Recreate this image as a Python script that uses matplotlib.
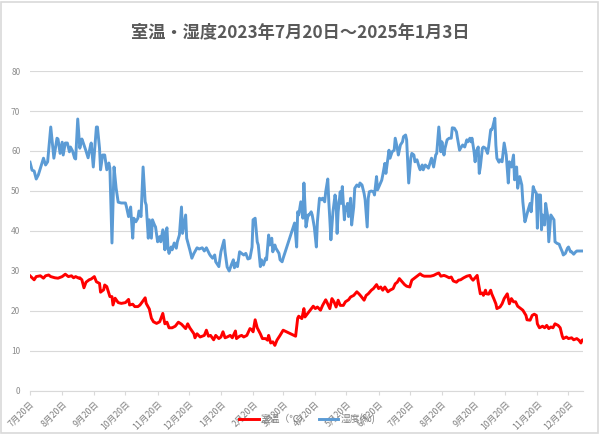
import numpy as np
import pandas as pd
import matplotlib
matplotlib.use('Agg')
import matplotlib.pyplot as plt
from matplotlib.patches import Rectangle

plt.rcParams['font.family'] = ['Noto Sans CJK JP', 'DejaVu Sans']

start_date = '2023-07-20'
end_date = '2025-01-03'

# days since 2023-07-20 and humidity (%)
hum_days = [0, 2, 4, 6, 8, 13, 15, 17, 20, 23, 26, 27, 29, 31, 32, 34, 36, 38, 39, 41,
            43, 44, 46, 48, 50, 51, 54, 56, 58, 59, 61, 64, 65, 67, 68, 70, 72, 74, 76, 77,
            79, 81, 83, 85, 88, 92, 93, 95, 97, 99, 100, 102, 104, 105, 107, 109, 111, 112, 114, 115,
            117, 118, 120, 121, 123, 125, 126, 128, 130, 131, 132, 133, 134, 136, 137, 139, 141, 142, 144,
            146, 147, 150, 151, 154, 156, 158, 161, 163, 166, 168, 170, 173, 174, 176, 178, 179, 182, 184,
            187, 188, 190, 192, 194, 196, 197, 199, 200, 202, 204, 206, 208, 210, 212, 214, 215, 217,
            219, 220, 222, 223, 225, 227, 228, 230, 231, 233, 234, 236, 237, 240, 241, 243, 244, 255,
            257, 258, 259, 261, 263, 264, 266, 268, 269, 271, 272, 274, 276, 277, 279, 281, 282, 284,
            285, 287, 288, 289, 290, 292, 294, 295, 296, 297, 299, 300, 301, 303, 304, 305, 306, 307,
            309, 310, 312, 313, 315, 317, 318, 320, 322, 323, 325, 326, 327, 329, 331, 332, 334, 335,
            337, 339, 340, 342, 343, 345, 346, 347, 349, 351, 352, 354, 355, 357, 359, 360, 362, 363,
            365, 367, 368, 370, 371, 373, 375, 376, 378, 379, 381, 383, 384, 387, 389, 391, 392, 394,
            396, 397, 399, 400, 402, 404, 406, 407, 409, 411, 412, 414, 415, 417, 419, 421, 422, 424,
            425, 426, 428, 429, 430, 432, 433, 434, 436, 437, 439, 441, 442, 444, 445, 446, 448, 449,
            450, 452, 453, 455, 457, 459, 461, 462, 464, 466, 467, 469, 470, 472, 474, 475, 477, 478,
            480, 482, 483, 485, 486, 488, 489, 490, 492, 493, 494, 496, 497, 499, 500, 502, 503, 505,
            506, 508, 510, 511, 513, 514, 516, 518, 519, 521, 522, 524, 526, 527, 529, 531, 533]
humidity = [57.2, 55.2, 55.0, 53.0, 54.0, 58.2, 56.5, 57.3, 66.0, 58.2, 63.2, 63.0, 59.4, 62.2, 59.0, 62.0, 62.0, 59.8, 61.0, 60.0,
            58.2, 58.0, 68.0, 60.7, 63.0, 62.3, 60.0, 58.3, 61.0, 62.0, 56.0, 66.0, 66.0, 60.7, 55.3, 59.0, 59.0, 55.3, 57.0, 55.7,
            37.0, 56.0, 50.7, 47.2, 47.0, 47.0, 46.0, 43.6, 46.0, 38.2, 43.2, 42.3, 43.2, 45.0, 43.6, 56.0, 47.3, 46.5, 38.2, 42.8,
            38.2, 42.8, 41.5, 41.0, 37.3, 38.6, 37.3, 40.3, 35.3, 39.8, 40.8, 35.7, 34.4, 36.0, 35.3, 37.0, 35.7, 37.3, 39.0,
            46.0, 39.4, 44.0, 38.2, 35.3, 33.2, 34.4, 35.8, 35.5, 35.8, 35.0, 35.8, 34.2, 33.8, 33.2, 34.0, 32.3, 31.1, 34.8,
            37.7, 34.8, 31.0, 30.0, 31.5, 32.8, 30.8, 32.0, 31.1, 34.8, 34.4, 34.0, 34.4, 33.0, 33.2, 36.0, 42.8, 43.2,
            37.3, 36.5, 31.1, 32.8, 31.5, 33.2, 32.8, 39.0, 36.5, 38.2, 34.8, 36.5, 35.7, 34.4, 32.8, 32.3, 33.2, 42.0,
            36.0, 44.8, 44.0, 47.3, 43.2, 52.0, 41.0, 44.0, 44.0, 44.8, 44.0, 41.0, 36.0, 42.3, 48.2, 47.8, 48.2, 47.3,
            49.8, 53.0, 47.3, 42.8, 37.8, 44.8, 49.0, 47.3, 39.4, 44.8, 49.8, 46.9, 51.1, 42.8, 46.0, 45.2, 46.9, 43.6,
            48.2, 41.5, 46.0, 50.7, 51.5, 51.1, 52.0, 51.5, 49.4, 47.8, 41.0, 48.2, 49.8, 50.0, 49.8, 49.0, 53.6, 50.3,
            51.5, 52.7, 54.0, 56.9, 54.4, 58.2, 60.2, 58.2, 59.8, 60.2, 63.2, 60.7, 59.0, 61.5, 62.3, 63.6, 64.0, 62.8,
            52.0, 58.2, 59.4, 59.0, 57.3, 57.8, 56.0, 55.3, 56.5, 55.3, 56.5, 56.0, 55.7, 58.2, 56.0, 59.0, 59.4, 66.0,
            59.8, 62.3, 59.0, 60.7, 62.8, 63.2, 63.2, 65.8, 65.7, 64.8, 63.2, 60.2, 60.7, 61.5, 61.0, 62.8, 62.3, 63.2,
            62.3, 63.2, 59.8, 57.3, 59.8, 61.0, 54.4, 56.0, 60.7, 61.0, 60.7, 59.4, 61.0, 65.3, 65.3, 66.0, 68.2, 61.5,
            58.2, 57.2, 57.8, 57.3, 62.0, 59.0, 52.0, 57.3, 56.0, 59.0, 52.8, 56.0, 50.7, 53.6, 51.5, 47.3, 42.3, 43.2,
            45.2, 46.9, 44.8, 51.1, 50.3, 49.4, 40.7, 49.0, 49.0, 40.3, 44.0, 41.5, 46.9, 43.6, 37.3, 44.0, 43.6, 42.8,
            37.3, 36.9, 36.7, 36.0, 34.8, 34.0, 34.4, 35.7, 36.0, 34.8, 34.8, 34.2, 34.8, 35.0, 35.0, 35.0, 35.0]

# days since 2023-07-20 and room temperature (deg C)
temp_days = [0, 2, 4, 6, 10, 13, 15, 18, 20, 24, 27, 31, 34, 37, 40, 42, 44, 47, 48, 50,
             52, 54, 57, 59, 62, 64, 67, 68, 71, 72, 74, 77, 79, 80, 82, 85, 88, 92, 95, 96,
             99, 101, 104, 106, 108, 111, 112, 115, 117, 119, 122, 125, 128, 130, 132, 134, 137, 140, 143,
             146, 150, 152, 154, 158, 159, 161, 164, 168, 170, 172, 174, 177, 179, 182, 184, 186, 188, 190,
             193, 195, 198, 199, 202, 204, 206, 209, 212, 214, 215, 217, 219, 222, 224, 227, 229, 230, 232,
             234, 236, 238, 241, 244, 256, 258, 259, 262, 264, 265, 268, 270, 273, 275, 277, 280, 282, 285,
             286, 289, 291, 293, 295, 297, 299, 302, 304, 307, 309, 312, 315, 317, 319, 322, 324, 326, 329,
             331, 334, 336, 338, 340, 342, 345, 347, 350, 352, 354, 356, 359, 361, 363, 366, 368, 370, 373,
             376, 378, 380, 383, 386, 389, 392, 394, 396, 399, 401, 404, 406, 408, 411, 413, 415, 418, 421,
             424, 425, 427, 429, 431, 432, 434, 436, 437, 439, 440, 442, 444, 445, 447, 449, 450, 453, 455,
             457, 459, 460, 462, 464, 466, 468, 470, 473, 475, 478, 479, 482, 484, 486, 488, 489, 491, 494,
             496, 498, 500, 502, 504, 506, 509, 511, 513, 514, 517, 519, 522, 524, 527, 529, 531, 532, 533]
temperature = [28.8, 28.3, 27.8, 28.6, 28.8, 28.2, 28.8, 29.0, 28.6, 28.3, 28.2, 28.6, 29.2, 28.6, 28.8, 28.3, 28.6, 28.2, 28.3, 27.8,
               25.8, 27.2, 27.8, 28.0, 28.6, 27.3, 26.9, 24.7, 25.3, 26.5, 26.1, 23.6, 23.6, 21.5, 23.2, 22.1, 21.9, 22.1, 22.9, 21.5,
               21.7, 21.1, 21.1, 21.5, 22.2, 23.3, 21.9, 20.5, 18.2, 17.3, 16.9, 17.3, 19.4, 16.8, 17.2, 15.8, 15.8, 16.2, 17.2,
               16.7, 15.6, 16.8, 15.8, 14.3, 13.3, 14.3, 13.5, 13.9, 15.2, 13.7, 13.9, 12.8, 13.9, 13.1, 13.5, 14.8, 13.3, 13.5,
               13.9, 13.3, 15.0, 13.1, 13.7, 13.9, 13.5, 13.9, 15.6, 15.3, 14.8, 17.8, 15.8, 14.3, 13.1, 13.1, 12.7, 13.9, 12.0,
               12.3, 11.4, 12.7, 13.9, 15.2, 13.7, 18.2, 18.7, 18.1, 20.6, 18.5, 19.5, 20.2, 21.2, 20.6, 21.0, 20.2, 21.4, 22.8,
               22.3, 20.6, 23.1, 22.3, 21.0, 22.7, 21.4, 21.4, 22.3, 22.8, 23.5, 23.9, 24.8, 24.3, 23.7, 22.7, 23.9, 24.3, 25.2,
               25.6, 26.6, 25.6, 26.0, 25.2, 26.0, 24.8, 25.2, 25.6, 26.8, 27.2, 28.1, 27.2, 26.6, 26.2, 26.0, 27.7, 28.1, 28.7,
               29.3, 28.9, 28.7, 28.7, 28.7, 28.9, 29.3, 29.5, 28.7, 28.9, 28.7, 28.3, 28.5, 27.5, 27.2, 27.7, 27.8, 28.3, 28.7,
               28.9, 28.3, 27.7, 28.3, 28.9, 27.2, 24.3, 24.5, 23.9, 25.2, 24.3, 24.2, 25.2, 24.3, 23.1, 21.8, 20.6, 21.0, 21.8,
               23.1, 23.9, 24.3, 21.8, 23.1, 22.3, 22.3, 21.2, 20.6, 20.2, 18.9, 17.8, 17.7, 18.9, 19.2, 18.9, 16.8, 15.8, 16.2,
               15.8, 16.4, 15.6, 16.0, 15.8, 16.8, 16.4, 15.8, 13.7, 13.1, 13.5, 13.1, 13.3, 12.8, 13.1, 12.7, 12.0, 12.7, 12.8]

tick_months = [7, 8, 9, 10, 11, 12, 1, 2, 3, 4, 5, 6, 7, 8, 9, 10, 11, 12]
tick_years = [2023] * 6 + [2024] * 12

title = '室温・湿度2023年7月20日～2025年1月3日'
temp_label = '室温（℃）'
hum_label = '湿度(%)'

t0 = pd.Timestamp(start_date)
hum_dates = t0 + pd.to_timedelta(hum_days, unit='D')
temp_dates = t0 + pd.to_timedelta(temp_days, unit='D')
tick_dates = [pd.Timestamp(year=y, month=m, day=20) for y, m in zip(tick_years, tick_months)]
tick_labels = [f'{m}月20日' for m in tick_months]

fig = plt.figure(figsize=(6.0, 4.34), dpi=100)
ax = fig.add_axes([0.05, 0.0991, 0.9217, 0.7373])

ax.plot(temp_dates, temperature, color='#ff0000', linewidth=2.1, label=temp_label, zorder=3)
ax.plot(hum_dates, humidity, color='#5b9bd5', linewidth=2.1, label=hum_label, zorder=3)

ax.set_xlim(t0, pd.Timestamp(end_date))
ax.set_ylim(0, 80)
ax.set_yticks(np.arange(0, 81, 10))
ax.grid(axis='y', color='#d9d9d9', linewidth=0.8)
ax.set_axisbelow(True)
for side in ['top', 'right', 'left']:
    ax.spines[side].set_visible(False)
ax.spines['bottom'].set_color('#d9d9d9')
ax.spines['bottom'].set_linewidth(0.8)

ax.tick_params(axis='y', length=0, pad=7, labelsize=6, labelcolor='#8c8c8c')
ax.set_xticks(tick_dates)
ax.set_xticklabels(tick_labels, rotation=45, ha='right', va='top',
                   rotation_mode='anchor', fontsize=6.3, color='#7f7f7f')
ax.tick_params(axis='x', length=3, width=0.8, color='#d9d9d9', pad=3)

fig.text(0.5, 0.924, title, ha='center', va='center', fontsize=12.4,
         fontweight='bold', color='#595959')

leg = ax.legend(loc='center', bbox_to_anchor=(0.512, 0.035), bbox_transform=fig.transFigure,
                ncol=2, frameon=False, fontsize=7, handlelength=2.0, columnspacing=1.0,
                handletextpad=0.2, labelcolor='#7f7f7f')
leg.set_zorder(10)

fig.patches.append(Rectangle((0.002, 0.002), 0.994, 0.994, transform=fig.transFigure,
                             fill=False, edgecolor='#d9d9d9', linewidth=1.2))

fig.savefig('out.png', dpi=100)
